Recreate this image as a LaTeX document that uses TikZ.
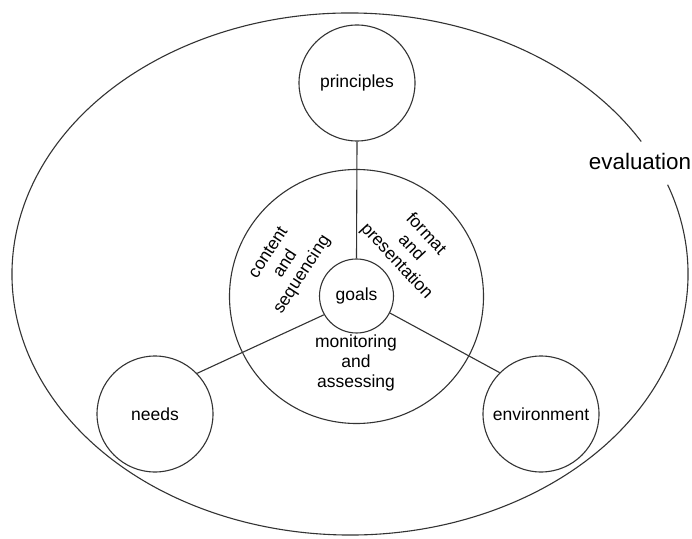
\documentclass[tikz,border=0pt]{standalone}
\usepackage{fontspec}
\setmainfont{Liberation Sans}
\tikzset{
  ln/.style={draw=black!80, line width=1.1pt},
  circ/.style={circle, ln, inner sep=0pt, font=\fontsize{17.5}{20}\selectfont},
  lbl/.style={align=center, inner sep=0pt, font=\fontsize{17.5}{20}\selectfont}
}
\begin{document}
\begin{tikzpicture}[x=1pt,y=1pt]
\useasboundingbox (0,0) rectangle (692,538);
\fill[white] (0,0) rectangle (692,538);
\coordinate (C) at (350,264);
% outer evaluation ellipse with gap
\draw[ln] ([shift={(30.5:338 and 261)}]C) arc[start angle=30.5, end angle=380, x radius=338, y radius=261];
\node[lbl, font=\fontsize{22.4}{26}\selectfont] (evaluation) at (640,377) {evaluation};
% middle circle
\node[circ, minimum size=254pt] (mid) at (356.5,241.5) {};
\node[circ, minimum size=74pt] (goals) at (356.5,242) {goals};
\node[circ, minimum size=116pt] (principles) at (357,455) {principles};
\node[circ, minimum size=116pt] (needs) at (155,124) {needs};
\node[circ, minimum size=116pt] (environment) at (541,124) {environment};
% connectors
\draw[ln] (principles.south) -- (goals.north);
\draw[ln] (goals.-150) -- (needs.44);
\draw[ln] (goals.-27) -- (environment.135);
% sector labels
\node[lbl, rotate=57] (content) at (286,274) {content\\and\\sequencing};
\node[lbl, rotate=-47] (format) at (411,290) {format\\and\\presentation};
\node[lbl] (monitoring) at (356,175) {monitoring\\and\\assessing};
\end{tikzpicture}
\end{document}
